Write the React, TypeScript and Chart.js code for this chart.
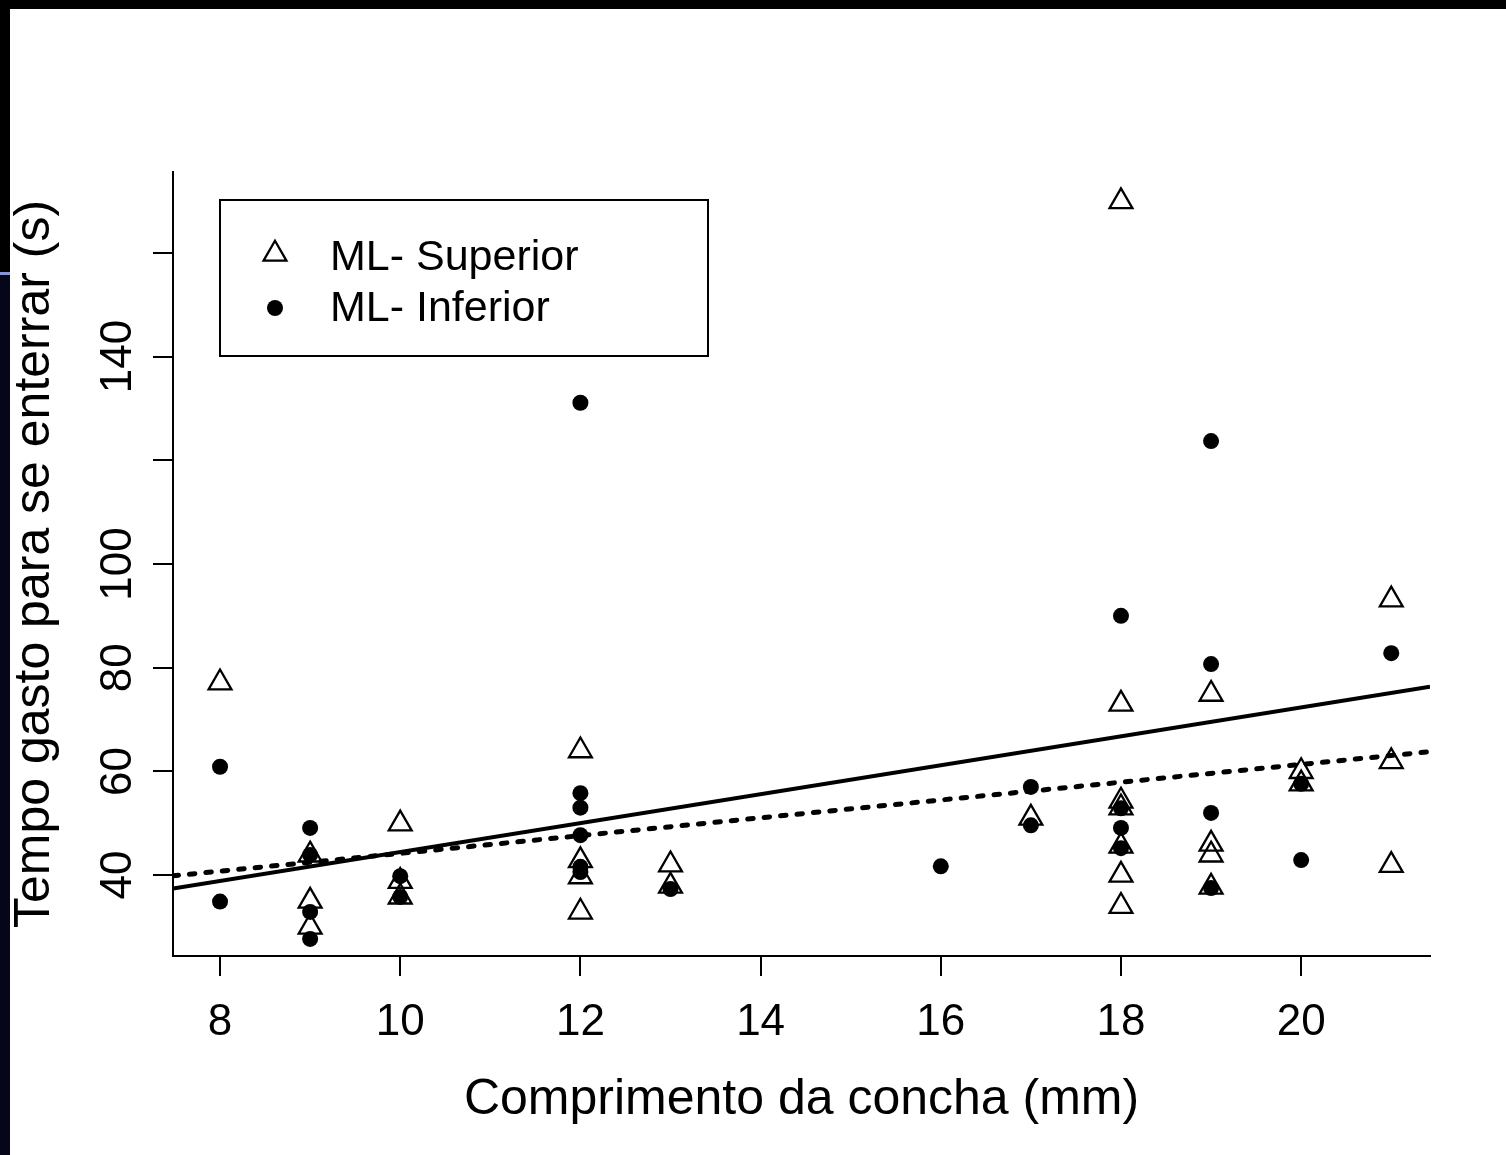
import React, { useEffect, useRef } from 'react';
import { Chart, registerables } from 'chart.js';

Chart.register(...registerables);

const FONT = '"Liberation Sans", Arial, Helvetica, sans-serif';

const xTickValues = [8, 10, 12, 14, 16, 18, 20];
const yTickValues = [40, 60, 80, 100, 120, 140, 160];
const yTickLabels = ['40', '60', '80', '100', '', '140', ''];
const xRange = [7.478, 21.43];
const yRange = [24.4, 175.6];

const superiorX = [8, 9, 9, 9, 10, 10, 10, 12, 12, 12, 12, 13, 13, 17, 18, 18, 18, 18, 18, 18, 18, 19, 19, 19, 19, 20, 20, 21, 21, 21];
const superiorY = [77.1, 43.9, 35.0, 30.0, 49.9, 38.8, 35.8, 64.0, 42.8, 39.7, 32.9, 42.0, 37.9, 51.0, 169.9, 73.0, 54.3, 53.0, 45.6, 40.0, 34.0, 74.9, 46.0, 43.9, 37.7, 60.0, 57.6, 93.1, 61.9, 41.9];

const inferiorX = [8, 8, 9, 9, 9, 9, 10, 10, 12, 12, 12, 12, 12, 12, 13, 16, 17, 17, 18, 18, 18, 18, 19, 19, 19, 19, 20, 20, 21];
const inferiorY = [60.9, 34.9, 49.1, 43.9, 32.9, 27.7, 39.8, 35.8, 131.1, 55.8, 53.0, 47.7, 41.6, 40.6, 37.3, 41.7, 57.0, 49.6, 90.0, 52.9, 49.1, 45.2, 123.7, 80.7, 52.0, 37.5, 57.6, 42.9, 82.8];

const fitX = [7.478, 21.43];
const fitSuperiorY = [37.43, 76.33];
const fitInferiorY = [39.86, 63.8];

const legendLabels = ['ML- Superior', 'ML- Inferior'];

const toPoints = (xs: number[], ys: number[]) => xs.map((x, i) => ({ x, y: ys[i] }));

const TRI_R = 13.2;
const DOT_R = 8;

const boxLegend = {
  id: 'boxLegend',
  afterDatasetsDraw(chart: any) {
    const ctx = chart.ctx as CanvasRenderingContext2D;
    const { left, top } = chart.chartArea;
    const bx = left + 47;
    const by = top + 28;
    ctx.save();
    ctx.lineWidth = 2;
    ctx.strokeStyle = '#000';
    ctx.strokeRect(bx, by, 488, 156);
    const sx = bx + 55;
    const tx = bx + 110;
    const rows = [by + 58, by + 109];
    const r = TRI_R;
    const cy = rows[0] - 4;
    ctx.beginPath();
    ctx.moveTo(sx, cy - r);
    ctx.lineTo(sx + 0.866 * r, cy + 0.5 * r);
    ctx.lineTo(sx - 0.866 * r, cy + 0.5 * r);
    ctx.closePath();
    ctx.lineWidth = 2.3;
    ctx.stroke();
    ctx.beginPath();
    ctx.arc(sx, rows[1] - 1, DOT_R, 0, Math.PI * 2);
    ctx.fillStyle = '#000';
    ctx.fill();
    ctx.font = `43px ${FONT}`;
    ctx.textBaseline = 'middle';
    ctx.textAlign = 'left';
    ctx.fillText(legendLabels[0], tx, rows[0]);
    ctx.fillText(legendLabels[1], tx, rows[1]);
    ctx.restore();
  },
};

export default function App() {
  const ref = useRef<HTMLCanvasElement>(null);

  useEffect(() => {
    if (!ref.current) return;
    const chart = new Chart(ref.current, {
      type: 'scatter',
      data: {
        datasets: [
          {
            type: 'line',
            label: 'Ajuste ML- Superior',
            data: toPoints(fitX, fitSuperiorY),
            borderColor: '#000',
            borderWidth: 4,
            pointRadius: 0,
            fill: false,
          } as any,
          {
            type: 'line',
            label: 'Ajuste ML- Inferior',
            data: toPoints(fitX, fitInferiorY),
            borderColor: '#000',
            borderWidth: 5,
            borderDash: [5.5, 11],
            borderCapStyle: 'round',
            pointRadius: 0,
            fill: false,
          } as any,
          {
            label: legendLabels[1],
            data: toPoints(inferiorX, inferiorY),
            pointStyle: 'circle',
            pointRadius: DOT_R,
            pointBackgroundColor: '#000',
            pointBorderWidth: 0,
            backgroundColor: '#000',
          },
          {
            label: legendLabels[0],
            data: toPoints(superiorX, superiorY),
            pointStyle: 'triangle',
            pointRadius: TRI_R,
            pointBorderWidth: 2.3,
            pointBorderColor: '#000',
            pointBackgroundColor: 'rgba(0,0,0,0)',
          },
        ],
      },
      options: {
        animation: false,
        responsive: false,
        devicePixelRatio: 1,
        layout: { padding: { top: 172, right: 76, left: 0, bottom: 0 }, autoPadding: false },
        plugins: { legend: { display: false }, tooltip: { enabled: false } },
        scales: {
          x: {
            type: 'linear',
            min: xRange[0],
            max: xRange[1],
            afterBuildTicks: (s: any) => {
              s.ticks = xTickValues.map((v) => ({ value: v }));
            },
            afterFit: (s: any) => {
              s.height = 199;
            },
            grid: { display: true, drawOnChartArea: false, drawTicks: true, tickLength: 20, color: '#000', lineWidth: 2 },
            border: { display: true, color: '#000', width: 2 },
            ticks: {
              color: '#000',
              font: { family: FONT, size: 44 },
              padding: 20,
              maxRotation: 0,
              minRotation: 0,
              autoSkip: false,
              callback: (v: any) => String(v),
            },
            title: {
              display: true,
              text: 'Comprimento da concha (mm)',
              color: '#000',
              font: { family: FONT, size: 50 },
              padding: { top: 0, bottom: 25 },
            },
          },
          y: {
            type: 'linear',
            min: yRange[0],
            max: yRange[1],
            afterBuildTicks: (s: any) => {
              s.ticks = yTickValues.map((v) => ({ value: v }));
            },
            afterFit: (s: any) => {
              s.width = 173;
            },
            grid: { display: true, drawOnChartArea: false, drawTicks: true, tickLength: 20, color: '#000', lineWidth: 2 },
            border: { display: true, color: '#000', width: 2 },
            ticks: {
              color: '#000',
              font: { family: FONT, size: 44 },
              padding: -3,
              minRotation: 90,
              maxRotation: 90,
              crossAlign: 'center',
              autoSkip: false,
              callback: (v: any) => {
                const i = yTickValues.indexOf(Number(v));
                return i >= 0 ? yTickLabels[i] : '';
              },
            },
            title: {
              display: true,
              text: 'Tempo gasto para se enterrar (s)',
              color: '#000',
              font: { family: FONT, size: 50 },
              padding: { top: 5, bottom: 0 },
            },
          },
        },
      },
      plugins: [boxLegend],
    });
    return () => chart.destroy();
  }, []);

  return (
    <div style={{ position: 'fixed', left: 0, top: 0, width: 1506, height: 1155, background: '#fff', overflow: 'hidden' }}>
      <canvas ref={ref} width={1506} height={1155} style={{ position: 'absolute', left: 0, top: 0, width: 1506, height: 1155 }} />
      <div style={{ position: 'absolute', left: 0, top: 0, width: 1506, height: 9, background: '#000' }} />
      <div style={{ position: 'absolute', left: 0, top: 0, width: 10, height: 272, background: '#000' }} />
      <div style={{ position: 'absolute', left: 0, top: 272, width: 10, height: 3, background: '#8393e2' }} />
      <div style={{ position: 'absolute', left: 0, top: 275, width: 10, height: 880, background: '#06061a' }} />
    </div>
  );
}
